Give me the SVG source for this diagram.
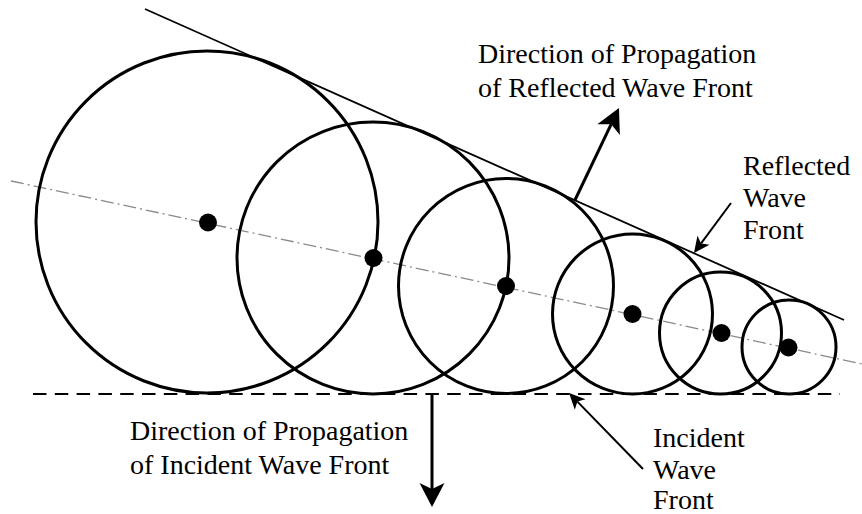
<svg xmlns="http://www.w3.org/2000/svg" width="862" height="514" viewBox="0 0 862 514">
<style>
.wave{fill:none;stroke:#000;stroke-width:3}
.dot{fill:#000}
.lbl{font-size:28px;fill:#000}
.thick{stroke:#000;stroke-width:3;fill:none}
.thin{stroke:#000;stroke-width:2;fill:none}
</style>
<defs>
<marker id="bigHead" markerUnits="userSpaceOnUse" markerWidth="26" markerHeight="26" viewBox="0 -13 26 26" refX="6" refY="0" orient="auto" overflow="visible">
<path d="M24,0 L0,-12.5 L6,0 L0,12.5 Z" fill="#000"/>
</marker>
<marker id="smallHead" markerUnits="userSpaceOnUse" markerWidth="18" markerHeight="18" viewBox="0 -9 18 18" refX="4" refY="0" orient="auto" overflow="visible">
<path d="M16,0 L0,-7.5 L4,0 L0,7.5 Z" fill="#000"/>
</marker>
</defs>
<rect width="862" height="514" fill="#fff"/>
<g id="axis">
<line x1="11" y1="181" x2="862" y2="364" stroke="#8a8a8a" stroke-width="1.3" stroke-dasharray="13 4 2 4"/>
</g>
<g id="incident-front">
<line x1="33" y1="394" x2="840" y2="394" stroke="#000" stroke-width="2" stroke-dasharray="13.5 8.3"/>
</g>
<g id="reflected-front">
<line x1="145" y1="9" x2="844" y2="320" stroke="#000" stroke-width="1.8"/>
</g>
<g id="wavelet1"><circle class="wave" cx="207" cy="222" r="171"/><circle class="dot" cx="208" cy="222.5" r="9"/></g>
<g id="wavelet2"><circle class="wave" cx="373" cy="258" r="136"/><circle class="dot" cx="373.5" cy="258" r="9"/></g>
<g id="wavelet3"><circle class="wave" cx="506" cy="286" r="107.5"/><circle class="dot" cx="506" cy="286" r="9"/></g>
<g id="wavelet4"><circle class="wave" cx="632.5" cy="314" r="80"/><circle class="dot" cx="632.5" cy="314" r="9"/></g>
<g id="wavelet5"><circle class="wave" cx="720.5" cy="333" r="61"/><circle class="dot" cx="721.5" cy="333" r="9"/></g>
<g id="wavelet6"><circle class="wave" cx="789" cy="347" r="47"/><circle class="dot" cx="788.5" cy="347.5" r="9"/></g>
<g id="connectors">
<line class="thick" x1="575" y1="200" x2="611.2" y2="124.2" marker-end="url(#bigHead)"/>
<line class="thick" x1="432" y1="394" x2="432" y2="489" marker-end="url(#bigHead)"/>
<line class="thin" x1="731" y1="203" x2="701.1" y2="243.4" marker-end="url(#smallHead)"/>
<line class="thin" x1="643" y1="469" x2="577.4" y2="401.6" marker-end="url(#smallHead)"/>
</g>
<g font-family="Liberation Serif, Times New Roman, DejaVu Serif, serif">
<g id="label-reflected-direction">
<text class="lbl" x="478" y="63">Direction of Propagation</text>
<text class="lbl" x="478" y="97">of Reflected Wave Front</text>
</g>
<g id="label-reflected-front">
<text class="lbl" x="743" y="175">Reflected</text>
<text class="lbl" x="743" y="207">Wave</text>
<text class="lbl" x="743" y="239">Front</text>
</g>
<g id="label-incident-direction">
<text class="lbl" x="130" y="440">Direction of Propagation</text>
<text class="lbl" x="130" y="474">of Incident Wave Front</text>
</g>
<g id="label-incident-front">
<text class="lbl" x="653" y="447">Incident</text>
<text class="lbl" x="653" y="479">Wave</text>
<text class="lbl" x="653" y="509">Front</text>
</g>
</g>
</svg>
